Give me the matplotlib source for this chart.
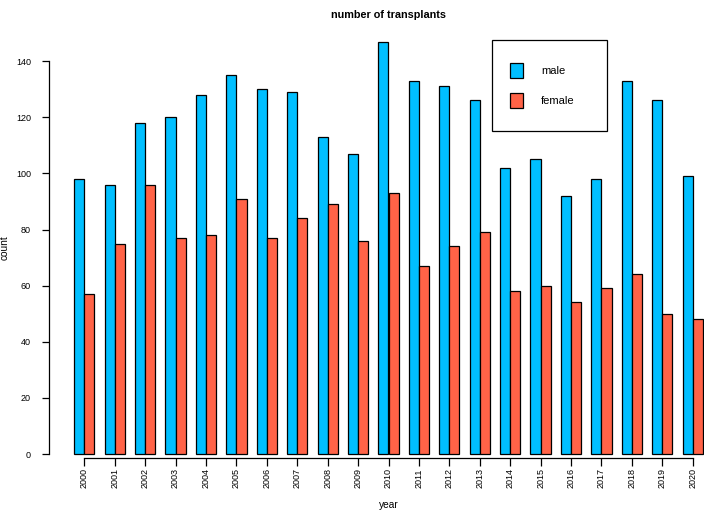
import numpy as np
import matplotlib.pyplot as plt
from matplotlib.patches import Rectangle

# Transplant counts per year
years = [str(y) for y in range(2000, 2021)]
male = [98, 96, 118, 120, 128, 135, 130, 129, 113, 107, 147, 133, 131, 126, 102, 105, 92, 98, 133, 126, 99]
female = [57, 75, 96, 77, 78, 91, 77, 84, 89, 76, 93, 67, 74, 79, 58, 60, 54, 59, 64, 50, 48]
labels = ['male', 'female']
colors = ['#00BFFF', '#FF6347']

plt.rcParams['font.family'] = ['Liberation Sans', 'DejaVu Sans']

W, H = 704, 521
fig = plt.figure(figsize=(W / 100, H / 100), dpi=100)

# R style plot region (extends a bit past the right edge, like the original)
left, right, top, bottom = 49, 728, 25, 470.5
ax = fig.add_axes([left / W, 1 - bottom / H, (right - left) / W, (bottom - top) / H])

# barplot(beside=TRUE) layout: bar width 1, one bar gap between groups
centers = 3 * np.arange(len(years)) + 2
ax.bar(centers - 0.5, male, width=1, color=colors[0], edgecolor='black', linewidth=0.9)
ax.bar(centers + 0.5, female, width=1, color=colors[1], edgecolor='black', linewidth=0.9)

ymax = max(male + female)
ax.set_xlim(1 - 0.04 * 62, 63 + 0.04 * 62)
ax.set_ylim(-0.04 * ymax, ymax * 1.04)

for s in ['top', 'right']:
    ax.spines[s].set_visible(False)
ax.spines['left'].set_bounds(0, 140)
ax.spines['bottom'].set_position(('data', -1.4))
ax.spines['bottom'].set_bounds(centers[0], centers[-1])
ax.spines['left'].set_linewidth(0.9)
ax.spines['bottom'].set_linewidth(0.9)

ax.set_yticks(range(0, 141, 20))
ax.set_xticks(centers)
ax.set_xticklabels(years, rotation=90)
ax.tick_params(axis='y', length=5, width=0.9, pad=8, labelsize=6.5, colors='black')
ax.tick_params(axis='x', length=6, width=0.9, pad=1.5, labelsize=6.5, colors='black')

ax.set_xlabel('year', fontsize=7.3, va='center')
ax.xaxis.set_label_coords(0.5, (bottom - 505) / (bottom - top))
ax.set_ylabel('count', fontsize=7.3, va='center')
ax.yaxis.set_label_coords((5 - left) / (right - left), 0.5)
ax.text(0.5, (bottom - 15) / (bottom - top), 'number of transplants', transform=ax.transAxes,
        ha='center', va='center', fontsize=7.8, fontweight='bold')

# legend box drawn R-style
def px(x, y):
    return x / W, 1 - y / H

fig.add_artist(Rectangle(px(492, 131), 115 / W, 91 / H, transform=fig.transFigure,
                         facecolor='white', edgecolor='black', linewidth=0.9))
for i, (lab, c) in enumerate(zip(labels, colors)):
    y0 = 63 + 30 * i
    fig.add_artist(Rectangle(px(510, y0 + 15), 13 / W, 15 / H, transform=fig.transFigure,
                             facecolor=c, edgecolor='black', linewidth=0.9))
    fig.text(*px(541, y0 + 8), lab, ha='left', va='center', fontsize=8)

fig.savefig('out.png', dpi=100)
